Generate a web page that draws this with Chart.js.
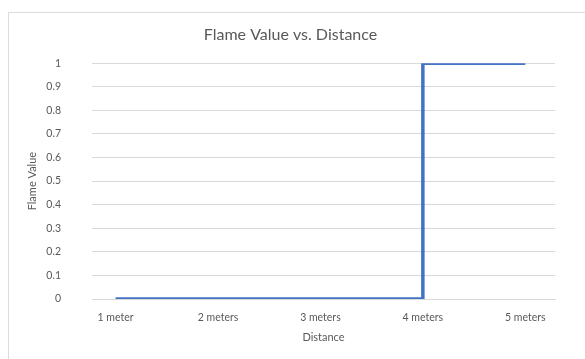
<!DOCTYPE html>
<html>
<head>
<meta charset="utf-8">
<script src="https://cdn.jsdelivr.net/npm/chart.js@4/dist/chart.umd.min.js"></script>
<style>
  html, body { margin: 0; padding: 0; background: #fff; }
  #wrap { position: relative; width: 585px; height: 359px; overflow: hidden; }
  #frame { position: absolute; left: 8px; top: 12px; width: 600px; height: 400px;
           border: 1px solid #dcdcdc; box-sizing: border-box; pointer-events: none; }
  canvas { position: absolute; left: 0; top: 0; }
</style>
</head>
<body>
<div id="wrap">
  <div id="frame"></div>
  <canvas id="chart" width="585" height="359"></canvas>
</div>
<script>
// Distance categories and the flame sensor reading at each one
const distances = ['1 meter', '2 meters', '3 meters', '4 meters', '5 meters'];
const flameValues = [0, 0, 0, 0, 1];
const yTickValues = [0, 0.1, 0.2, 0.3, 0.4, 0.5, 0.6, 0.7, 0.8, 0.9, 1];

const textColor = '#595959';
const gridColor = '#d9d9d9';
const fontFamily = 'Lato, "Open Sans", sans-serif';

const points = distances.map((d, i) => ({ x: i + 1, y: flameValues[i] }));

new Chart(document.getElementById('chart'), {
  type: 'line',
  data: {
    datasets: [{
      label: 'Flame Value',
      data: points,
      borderColor: '#4472C4',
      borderWidth: 3.5,
      pointRadius: 0,
      stepped: 'after',
      fill: false
    }]
  },
  options: {
    responsive: false,
    animation: false,
    layout: { padding: { left: 26, right: 30, top: 16, bottom: 11 } },
    plugins: {
      legend: { display: false },
      tooltip: { enabled: false },
      title: {
        display: true,
        text: 'Flame Value vs. Distance',
        color: textColor,
        font: { family: fontFamily, size: 16, weight: 'normal' },
        padding: { top: 9, bottom: 19 }
      }
    },
    scales: {
      x: {
        type: 'linear',
        min: 0.77,
        max: 5.29,
        afterBuildTicks: (axis) => { axis.ticks = distances.map((d, i) => ({ value: i + 1 })); },
        afterFit: (axis) => { axis.height = 49; },
        grid: { display: false, drawTicks: false },
        border: { display: true, color: gridColor, width: 1 },
        ticks: {
          color: textColor,
          font: { family: fontFamily, size: 10.5 },
          padding: 12,
          maxRotation: 0,
          autoSkip: false,
          callback: (v) => distances[Math.round(v) - 1] || ''
        },
        title: {
          display: true,
          text: 'Distance',
          color: textColor,
          font: { family: fontFamily, size: 11 },
          padding: { top: 7, bottom: 4 }
        }
      },
      y: {
        min: 0,
        max: 1,
        afterBuildTicks: (axis) => { axis.ticks = yTickValues.map(v => ({ value: v })); },
        grid: { color: gridColor, lineWidth: 1, drawTicks: false },
        border: { display: false },
        ticks: {
          color: textColor,
          font: { family: fontFamily, size: 10.5 },
          padding: 31,
          callback: (v) => String(Math.round(v * 10) / 10)
        },
        afterFit: (axis) => { axis.width = 66; },
        title: {
          display: true,
          text: 'Flame Value',
          color: textColor,
          font: { family: fontFamily, size: 11 },
          padding: 0
        }
      }
    }
  }
});
</script>
</body>
</html>
